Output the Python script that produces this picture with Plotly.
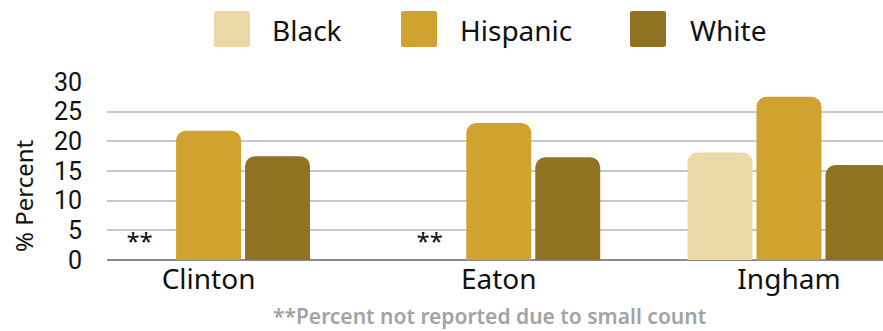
import plotly.graph_objects as go

counties = ["Clinton", "Eaton", "Ingham"]
series_names = ["Black", "Hispanic", "White"]
black_vals = [0, 0, 18.1]
hispanic_vals = [21.8, 23.1, 27.5]
white_vals = [17.5, 17.3, 16.0]
black_text = ["**", "**", ""]
colors = ["#EDD9A7", "#D0A22F", "#917221"]
yticks = [0, 5, 10, 15, 20, 25, 30]
footnote = "**Percent not reported due to small count"

FONT = "Noto Sans"
TICKFONT = "Roboto"
TXT = "#111111"
W, H = 883, 331
ML, MR, MT, MB = 107, 0, 82, 71
PW, PH = W - ML - MR, H - MT - MB

fig = go.Figure()
fig.add_trace(go.Bar(x=counties, y=black_vals, name=series_names[0],
                     marker=dict(color=colors[0], line=dict(width=0)),
                     text=black_text, textposition="outside",
                     textfont=dict(size=24, color=TXT, family=FONT),
                     cliponaxis=False, constraintext="none"))
fig.add_trace(go.Bar(x=counties, y=hispanic_vals, name=series_names[1],
                     marker=dict(color=colors[1], line=dict(width=0))))
fig.add_trace(go.Bar(x=counties, y=white_vals, name=series_names[2],
                     marker=dict(color=colors[2], line=dict(width=0))))


def px2x(p):
    return (p - ML) / PW


def px2y(p):
    return (H - MB - p) / PH


def rounded_rect(x0, y0, x1, y1, r):
    X = px2x
    Y = px2y
    return (f"M {X(x0 + r)} {Y(y0)} L {X(x1 - r)} {Y(y0)} "
            f"Q {X(x1)} {Y(y0)} {X(x1)} {Y(y0 + r)} L {X(x1)} {Y(y1 - r)} "
            f"Q {X(x1)} {Y(y1)} {X(x1 - r)} {Y(y1)} L {X(x0 + r)} {Y(y1)} "
            f"Q {X(x0)} {Y(y1)} {X(x0)} {Y(y1 - r)} L {X(x0)} {Y(y0 + r)} "
            f"Q {X(x0)} {Y(y0)} {X(x0 + r)} {Y(y0)} Z")


# custom legend with large swatches
sw_left = [214, 401, 630]
txt_left = [270, 458, 688]
shapes = []
annotations = []
for i, name in enumerate(series_names):
    shapes.append(dict(type="path", xref="paper", yref="paper",
                       path=rounded_rect(sw_left[i], 11, sw_left[i] + 36, 47, 2),
                       fillcolor=colors[i], line=dict(width=0)))
    annotations.append(dict(text=name, xref="paper", yref="paper",
                            x=px2x(txt_left[i]), y=px2y(30),
                            xanchor="left", yanchor="middle", showarrow=False,
                            font=dict(size=28, color=TXT, family=FONT)))

annotations.append(dict(text="% Percent", xref="paper", yref="paper",
                        x=px2x(23), y=px2y(196), textangle=-90,
                        xanchor="center", yanchor="middle", showarrow=False,
                        font=dict(size=24, color=TXT, family=FONT)))
annotations.append(dict(text=footnote, xref="paper", yref="paper",
                        x=px2x(489), y=px2y(316),
                        xanchor="center", yanchor="middle", showarrow=False,
                        font=dict(size=21, color="#A3A3A3", family=FONT, weight=600)))

fig.update_layout(
    width=W, height=H,
    margin=dict(l=ML, r=MR, t=MT, b=MB, pad=0),
    paper_bgcolor="white", plot_bgcolor="white",
    barmode="group", bargap=0.287, bargroupgap=0.058,
    barcornerradius=10,
    showlegend=False,
    font=dict(family=FONT, color=TXT),
    shapes=shapes, annotations=annotations,
    xaxis=dict(range=[-0.35, 2.324], showgrid=False, showline=False,
               ticks="", tickfont=dict(size=28, family=FONT, color=TXT),
               zeroline=False),
    yaxis=dict(range=[0, 30], tickvals=yticks, showgrid=True,
               gridcolor="#C8C8C8", gridwidth=1.5,
               zeroline=True, zerolinecolor="#8A8A8A", zerolinewidth=2,
               showline=False, ticks="", ticklabelstandoff=24,
               tickfont=dict(size=25, family=TICKFONT, color=TXT)),
)

fig.write_html("out.html")
